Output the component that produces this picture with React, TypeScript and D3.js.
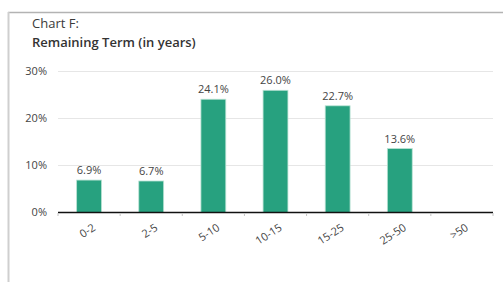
import * as d3 from "d3"

const categories = ["0-2", "2-5", "5-10", "10-15", "15-25", "25-50", ">50"]
const shares = [6.9, 6.7, 24.1, 26.0, 22.7, 13.6, 0]
const yTicks = [0, 10, 20, 30]

const W = 504
const H = 282
const FONT = "'Open Sans', sans-serif"

export default function App() {
  const x = d3.scaleBand<string>().domain(categories).range([58, 493]).paddingInner(0.6).paddingOuter(0.3)
  const band = d3.scaleBand<string>().domain(categories).range([58, 493])
  const y = d3.scaleLinear().domain([0, 30]).range([212.5, 71.5])

  return (
    <svg
      width={W}
      height={H}
      style={{ position: "absolute", left: 0, top: 0, background: "#fff" }}
      fontFamily={FONT}
    >
      {/* frame */}
      <line x1={8} x2={503} y1={12.5} y2={12.5} stroke="#b3b3b3" strokeWidth={1.5} />
      <line x1={8.5} x2={8.5} y1={12} y2={H} stroke="#cfcfcf" strokeWidth={2} />

      <text x={32} y={28} fontSize={13} fill="#3a3a3a">Chart F:</text>
      <text x={32} y={47} fontSize={13} fontWeight={600} fill="#333">Remaining Term (in years)</text>

      {yTicks.map((t) => (
        <g key={t}>
          {t > 0 && (
            <line x1={58} x2={493} y1={y(t)} y2={y(t)} stroke="#e6e6e6" strokeWidth={1} />
          )}
          <text x={47} y={y(t)} dy="0.35em" textAnchor="end" fontSize={11} fill="#444">
            {t}%
          </text>
        </g>
      ))}

      {categories.map((c, i) => {
        const v = shares[i]
        const bx = x(c) as number
        return (
          <g key={c}>
            {v > 0 && (
              <>
                <rect
                  x={bx}
                  y={y(v)}
                  width={x.bandwidth()}
                  height={y(0) - y(v)}
                  fill="#27a17f"
                  stroke="#b8e2d3"
                  strokeWidth={0.8}
                />
                <text x={bx + x.bandwidth() / 2} y={y(v) - 6} textAnchor="middle" fontSize={11} fill="#444">
                  {v.toFixed(1)}%
                </text>
              </>
            )}
          </g>
        )
      })}

      {/* x axis */}
      <line x1={58} x2={493} y1={212.5} y2={212.5} stroke="#111" strokeWidth={1.5} />
      {[...categories.map((c) => band(c) as number), 493].map((tx, i) => (
        <line key={i} x1={tx} x2={tx} y1={213} y2={216} stroke="#c4c4c4" strokeWidth={1} />
      ))}
      {categories.map((c) => {
        const cx = (band(c) as number) + band.bandwidth() / 2
        return (
          <text
            key={c}
            transform={`translate(${cx + 3},${223}) rotate(-33)`}
            textAnchor="end"
            dy="0.7em"
            fontSize={11}
            fill="#444"
          >
            {c}
          </text>
        )
      })}
    </svg>
  )
}
